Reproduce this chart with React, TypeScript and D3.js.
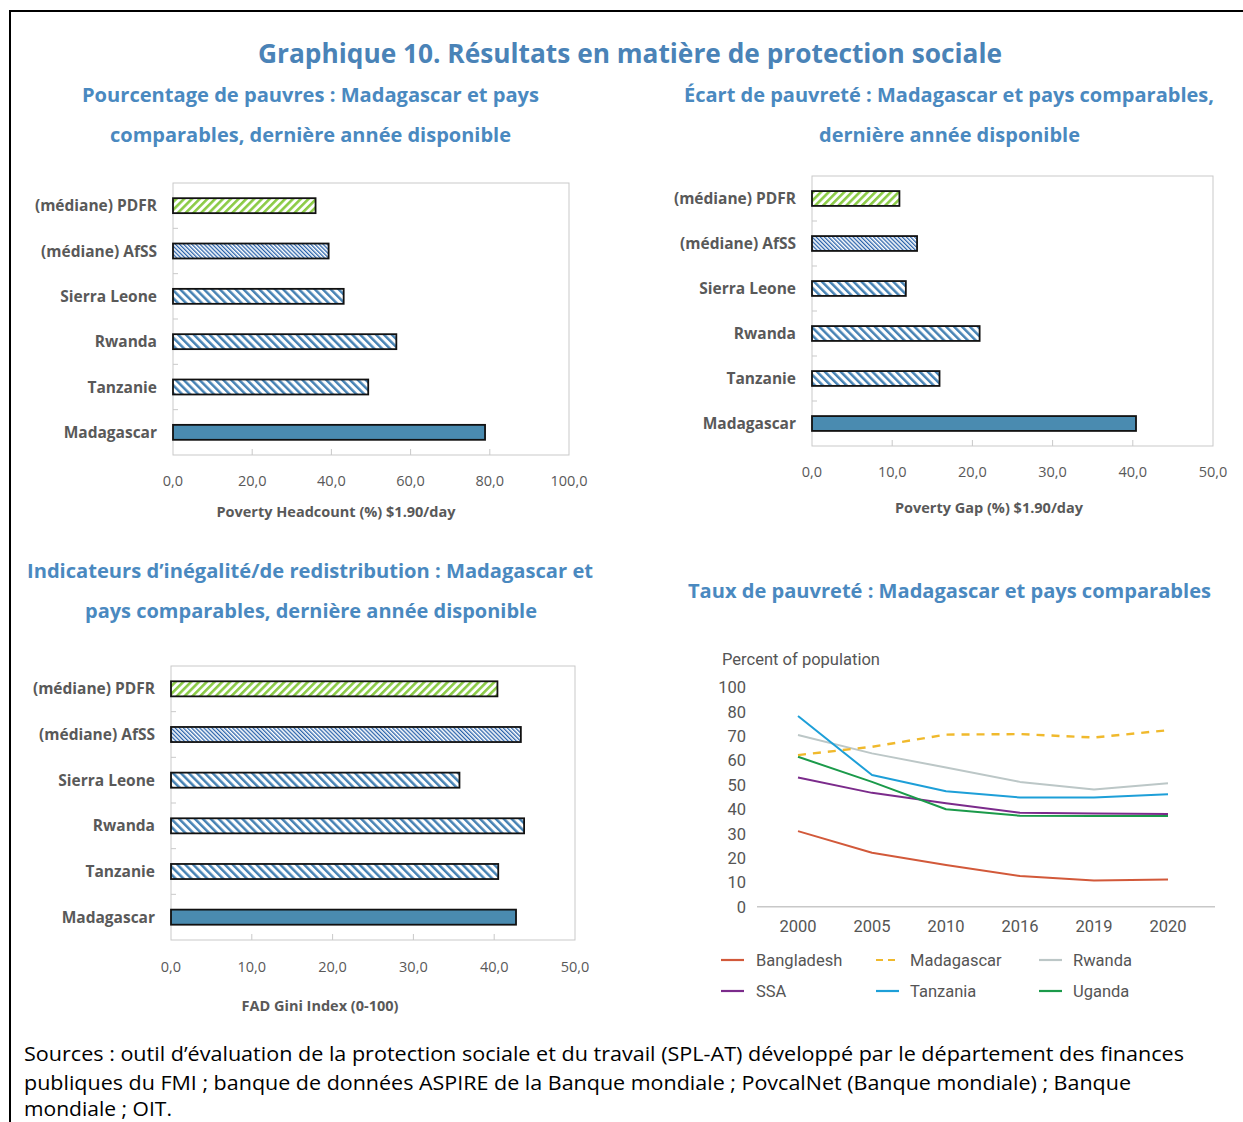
import * as d3 from "d3";
import { useEffect, useRef } from "react";

const WIDTH = 1243;
const HEIGHT = 1122;
const TITLE_BLUE = "#4a83b7";
const SUB_BLUE = "#4a89c0";
const GREY_TEXT = "#595959";
const FONT = "'Open Sans', 'Noto Sans', sans-serif";
const LINE_FONT = "Roboto, 'Noto Sans', sans-serif";

// bar panels
const categories = [
  "(médiane) PDFR",
  "(médiane) AfSS",
  "Sierra Leone",
  "Rwanda",
  "Tanzanie",
  "Madagascar",
];
const barStyles = ["pdfr", "afss", "wide", "wide", "wide", "solid"];
const headcount = [36.0, 39.3, 43.1, 56.4, 49.3, 78.8];
const povertyGap = [10.9, 13.1, 11.7, 20.9, 15.9, 40.4];
const gini = [40.4, 43.3, 35.7, 43.7, 40.5, 42.7];
const headcountTicks = [0, 20, 40, 60, 80, 100];
const gapTicks = [0, 10, 20, 30, 40, 50];
const giniTicks = [0, 10, 20, 30, 40, 50];

// line panel
const years = ["2000", "2005", "2010", "2016", "2019", "2020"];
const bangladesh = [31.0, 22.1, 17.1, 12.6, 10.7, 11.2];
const madagascar = [62.2, 65.6, 70.6, 70.8, 69.4, 72.4];
const rwanda = [70.4, 62.9, 57.1, 51.2, 48.1, 50.6];
const ssa = [53.0, 46.7, 42.4, 38.5, 38.2, 38.0];
const tanzania = [78.2, 54.0, 47.4, 44.8, 44.8, 46.1];
const uganda = [61.5, 51.2, 40.0, 37.3, 37.2, 37.2];
const yTickValues = [0, 10, 20, 30, 40, 50, 60, 70, 80, 90];
const yTickLabels = ["0", "10", "20", "30", "40", "50", "60", "70", "80", "100"];

const seriesNames = ["Rwanda", "Bangladesh", "SSA", "Uganda", "Tanzania", "Madagascar"];
const seriesValues = [rwanda, bangladesh, ssa, uganda, tanzania, madagascar];
const seriesColors = ["#bcc7c7", "#d2593a", "#7b2b8b", "#1b9a4a", "#1d9fd8", "#f0b92c"];
const legendOrder = ["Bangladesh", "Madagascar", "Rwanda", "SSA", "Tanzania", "Uganda"];

type Sel = d3.Selection<SVGGElement, unknown, null, undefined>;

const addText = (
  g: Sel,
  s: string,
  x: number,
  y: number,
  o: { size: number; color: string; weight?: string; anchor?: string; font?: string; len?: number }
) => {
  const t = g
    .append("text")
    .text(s)
    .attr("x", x)
    .attr("y", y)
    .attr("font-family", o.font || FONT)
    .attr("font-size", o.size)
    .attr("font-weight", o.weight || "normal")
    .attr("fill", o.color)
    .attr("text-anchor", o.anchor || "start");
  if (o.len) t.attr("textLength", o.len).attr("lengthAdjust", "spacingAndGlyphs");
  return t;
};

const drawBarPanel = (
  g: Sel,
  p: {
    left: number;
    right: number;
    top: number;
    bottom: number;
    labelX: number;
    values: number[];
    ticks: number[];
    tickY: number;
    title: string;
    titleX: number;
    titleY: number;
  }
) => {
  const x = d3
    .scaleLinear()
    .domain([p.ticks[0], p.ticks[p.ticks.length - 1]])
    .range([p.left, p.right]);
  const y = d3
    .scaleBand()
    .domain(categories)
    .range([p.top, p.bottom])
    .paddingInner(0.67)
    .paddingOuter(0.335);

  g.append("rect")
    .attr("x", p.left)
    .attr("y", p.top)
    .attr("width", p.right - p.left)
    .attr("height", p.bottom - p.top)
    .attr("fill", "#fff")
    .attr("stroke", "#c9c9c9")
    .attr("stroke-width", 1);

  d3.range(1, categories.length).forEach((i) => {
    const yy = p.top + i * y.step();
    g.append("line")
      .attr("x1", p.left)
      .attr("x2", p.left + 5)
      .attr("y1", yy)
      .attr("y2", yy)
      .attr("stroke", "#c9c9c9");
  });

  p.ticks.slice(1, -1).forEach((t) => {
    g.append("line")
      .attr("x1", x(t))
      .attr("x2", x(t))
      .attr("y1", p.bottom - 6)
      .attr("y2", p.bottom)
      .attr("stroke", "#c9c9c9");
  });

  p.ticks.forEach((t) => {
    addText(g, t.toFixed(1).replace(".", ","), x(t), p.tickY, {
      size: 14.5,
      color: GREY_TEXT,
      anchor: "middle",
    });
  });

  categories.forEach((c, i) => {
    g.append("rect")
      .attr("x", x(0))
      .attr("y", y(c) || 0)
      .attr("width", x(p.values[i]) - x(0))
      .attr("height", y.bandwidth())
      .attr("fill", barStyles[i] === "solid" ? "#4a8bb0" : `url(#pat-${barStyles[i]})`)
      .attr("stroke", "#111")
      .attr("stroke-width", 1.8);

    addText(g, c, p.labelX, (y(c) || 0) + y.bandwidth() / 2 + 5.5, {
      size: 15.5,
      color: GREY_TEXT,
      weight: "bold",
      anchor: "end",
    });
  });

  addText(g, p.title, p.titleX, p.titleY, {
    size: 14.5,
    color: GREY_TEXT,
    weight: "bold",
    anchor: "middle",
  });
};

const drawLinePanel = (g: Sel) => {
  const x = d3.scalePoint().domain(years).range([798, 1168]);
  const y = d3.scaleLinear().domain([0, 90]).range([906.7, 687.3]);

  addText(g, "Percent of population", 722, 665, {
    size: 17,
    color: "#555",
    font: LINE_FONT,
    len: 158,
  });

  yTickValues.forEach((v, i) => {
    addText(g, yTickLabels[i], 746, y(v) + 6, {
      size: 16.5,
      color: "#555",
      anchor: "end",
      font: LINE_FONT,
    });
  });

  g.append("line")
    .attr("x1", 757)
    .attr("x2", 1215)
    .attr("y1", y(0))
    .attr("y2", y(0))
    .attr("stroke", "#c8c8c8")
    .attr("stroke-width", 1.5);

  years.forEach((yr) => {
    addText(g, yr, x(yr) || 0, 932, {
      size: 16.5,
      color: "#555",
      anchor: "middle",
      font: LINE_FONT,
    });
  });

  const line = d3
    .line<number>()
    .x((_, i) => x(years[i]) || 0)
    .y((d) => y(d));

  seriesNames.forEach((name, i) => {
    g.append("path")
      .attr("d", line(seriesValues[i]) || "")
      .attr("fill", "none")
      .attr("stroke", seriesColors[i])
      .attr("stroke-width", name === "Madagascar" ? 2.4 : 2)
      .attr("stroke-dasharray", name === "Madagascar" ? "8,7" : null)
      .attr("stroke-linejoin", "round");
  });

  // legend, 3 per row
  const colLine = [721, 876, 1039];
  const colText = [756, 910, 1073];
  const rowY = [960, 991];
  legendOrder.forEach((name, k) => {
    const c = k % 3;
    const r = Math.floor(k / 3);
    const idx = seriesNames.indexOf(name);
    g.append("line")
      .attr("x1", colLine[c])
      .attr("x2", colLine[c] + 23)
      .attr("y1", rowY[r])
      .attr("y2", rowY[r])
      .attr("stroke", seriesColors[idx])
      .attr("stroke-width", 2.2)
      .attr("stroke-dasharray", name === "Madagascar" ? "7,5" : null);
    addText(g, name, colText[c], rowY[r] + 6, {
      size: 16.5,
      color: "#555",
      font: LINE_FONT,
    });
  });
};

const App = () => {
  const svgRef = useRef<SVGSVGElement | null>(null);

  useEffect(() => {
    if (!svgRef.current) return;
    const root = d3.select(svgRef.current);
    root.selectAll("*").remove();

    const defs = root.append("defs");
    const stripes = (id: string, period: number, w: number, angle: number, color: string) => {
      const pat = defs
        .append("pattern")
        .attr("id", id)
        .attr("patternUnits", "userSpaceOnUse")
        .attr("width", period)
        .attr("height", period)
        .attr("patternTransform", `rotate(${angle})`);
      pat.append("rect").attr("width", period).attr("height", period).attr("fill", "#fff");
      pat.append("rect").attr("width", w).attr("height", period).attr("fill", color);
    };
    stripes("pat-pdfr", 5.5, 2.6, 45, "#8bcb45");
    stripes("pat-wide", 5.6, 2.5, -45, "#4682b4");
    stripes("pat-afss", 2.9, 1.3, -45, "#2a62aa");

    const g = root.append("g") as unknown as Sel;

    g.append("rect").attr("width", WIDTH).attr("height", HEIGHT).attr("fill", "#fff");
    g.append("path")
      .attr("d", `M10,${HEIGHT} V11 H${WIDTH}`)
      .attr("fill", "none")
      .attr("stroke", "#000")
      .attr("stroke-width", 2);

    addText(g, "Graphique 10. Résultats en matière de protection sociale", 630, 63, {
      size: 26,
      color: TITLE_BLUE,
      weight: "bold",
      anchor: "middle",
      len: 744,
    });

    const sub = (s: string, cx: number, yy: number, len: number) =>
      addText(g, s, cx, yy, { size: 19.5, color: SUB_BLUE, weight: "bold", anchor: "middle", len });

    sub("Pourcentage de pauvres : Madagascar et pays", 310.5, 102, 457);
    sub("comparables, dernière année disponible", 310.5, 142, 401);
    sub("Écart de pauvreté : Madagascar et pays comparables,", 949, 102, 530);
    sub("dernière année disponible", 949.5, 142, 261);
    sub("Indicateurs d’inégalité/de redistribution : Madagascar et", 310, 578, 566);
    sub("pays comparables, dernière année disponible", 311, 618, 452);
    sub("Taux de pauvreté : Madagascar et pays comparables", 949.5, 598, 523);

    drawBarPanel(g, {
      left: 173,
      right: 569,
      top: 183,
      bottom: 455,
      labelX: 157,
      values: headcount,
      ticks: headcountTicks,
      tickY: 486,
      title: "Poverty Headcount (%) $1.90/day",
      titleX: 336,
      titleY: 517,
    });
    drawBarPanel(g, {
      left: 812,
      right: 1213,
      top: 176,
      bottom: 446,
      labelX: 796,
      values: povertyGap,
      ticks: gapTicks,
      tickY: 477,
      title: "Poverty Gap (%) $1.90/day",
      titleX: 989,
      titleY: 513,
    });
    drawBarPanel(g, {
      left: 171,
      right: 575,
      top: 666,
      bottom: 940,
      labelX: 155,
      values: gini,
      ticks: giniTicks,
      tickY: 972,
      title: "FAD Gini Index (0-100)",
      titleX: 320,
      titleY: 1011,
    });

    drawLinePanel(g);

    const src = (s: string, yy: number, len: number) =>
      addText(g, s, 24, yy, { size: 20, color: "#000", len });
    src(
      "Sources : outil d’évaluation de la protection sociale et du travail (SPL-AT) développé par le département des finances",
      1061,
      1160
    );
    src(
      "publiques du FMI ; banque de données ASPIRE de la Banque mondiale ; PovcalNet (Banque mondiale) ; Banque",
      1090,
      1107
    );
    src("mondiale ; OIT.", 1116, 148);
  }, []);

  return (
    <svg
      ref={svgRef}
      width={WIDTH}
      height={HEIGHT}
      style={{ position: "absolute", left: 0, top: 0, display: "block" }}
    />
  );
};

export default App;
